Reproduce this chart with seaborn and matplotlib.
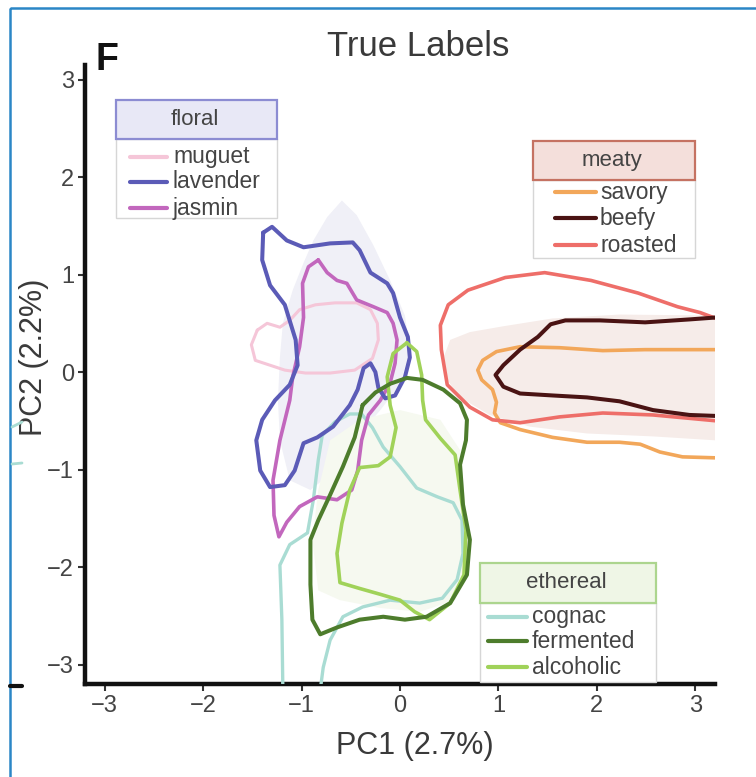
import matplotlib
matplotlib.use("Agg")
import matplotlib.pyplot as plt
from matplotlib.patches import Rectangle
import seaborn as sns

# ---- contour outlines (PC1, PC2) ----
# floral
muguet_x = [-1.45, -1.35, -1.22, -1.12, -1.02, -0.86, -0.66, -0.44, -0.30, -0.23, -0.22, -0.28, -0.46, -0.71, -0.96, -1.17, -1.32, -1.47, -1.51]
muguet_y = [0.43, 0.50, 0.46, 0.53, 0.64, 0.69, 0.71, 0.71, 0.64, 0.50, 0.33, 0.14, 0.02, -0.01, -0.01, 0.02, 0.07, 0.12, 0.28]

lavender_x = [-1.39, -1.30, -1.15, -0.98, -0.71, -0.48, -0.41, -0.30, -0.13, -0.07, 0.00, 0.08, 0.10, 0.05, -0.05, -0.15, -0.22, -0.25, -0.30, -0.37, -0.43, -0.51, -0.68, -0.84, -0.98, -1.07, -1.17, -1.32, -1.42, -1.46, -1.40, -1.27, -1.12, -1.04, -1.06, -1.17, -1.32, -1.40]
lavender_y = [1.43, 1.49, 1.35, 1.28, 1.32, 1.33, 1.25, 1.02, 0.91, 0.81, 0.56, 0.36, 0.15, -0.05, -0.24, -0.27, -0.16, 0.00, 0.09, 0.04, -0.18, -0.34, -0.56, -0.67, -0.73, -1.01, -1.16, -1.18, -1.01, -0.70, -0.49, -0.29, -0.13, 0.07, 0.33, 0.69, 0.89, 1.15]

jasmin_x = [-0.83, -0.74, -0.64, -0.54, -0.44, -0.27, -0.13, -0.07, -0.03, -0.05, -0.10, -0.20, -0.32, -0.39, -0.43, -0.49, -0.64, -0.84, -1.02, -1.15, -1.23, -1.28, -1.29, -1.22, -1.12, -1.09, -1.02, -0.98, -0.99, -0.93]
jasmin_y = [1.15, 1.02, 0.94, 0.91, 0.74, 0.67, 0.61, 0.50, 0.33, 0.09, -0.11, -0.29, -0.44, -0.70, -1.01, -1.21, -1.31, -1.28, -1.38, -1.54, -1.69, -1.47, -1.11, -0.70, -0.29, -0.05, 0.26, 0.56, 0.91, 1.08]

# meaty (open to the right, cut by the axis)
savory_x = [3.21, 2.84, 2.49, 2.06, 1.62, 1.22, 0.98, 0.84, 0.79, 0.83, 0.94, 0.98, 0.96, 1.02, 1.22, 1.55, 1.90, 2.23, 2.44, 2.64, 2.87, 3.21]
savory_y = [0.23, 0.23, 0.23, 0.22, 0.25, 0.26, 0.21, 0.12, 0.02, -0.08, -0.18, -0.31, -0.42, -0.52, -0.59, -0.67, -0.72, -0.72, -0.74, -0.82, -0.87, -0.88]

beefy_x = [3.21, 2.94, 2.49, 2.03, 1.68, 1.53, 1.40, 1.22, 1.05, 0.97, 1.05, 1.22, 1.55, 1.90, 2.23, 2.57, 2.94, 3.21]
beefy_y = [0.56, 0.54, 0.51, 0.53, 0.53, 0.49, 0.36, 0.23, 0.07, -0.03, -0.15, -0.22, -0.24, -0.26, -0.30, -0.39, -0.44, -0.45]

roasted_x = [3.21, 3.05, 2.82, 2.42, 1.94, 1.47, 1.07, 0.69, 0.49, 0.41, 0.42, 0.48, 0.71, 0.94, 1.22, 1.62, 2.06, 2.57, 3.21]
roasted_y = [0.55, 0.61, 0.67, 0.81, 0.94, 1.02, 0.97, 0.84, 0.69, 0.48, 0.23, -0.13, -0.36, -0.49, -0.52, -0.46, -0.42, -0.44, -0.50]

# ethereal
cognac_x = [-1.19, -1.20, -1.22, -1.12, -0.94, -0.88, -0.83, -0.79, -0.66, -0.51, -0.39, -0.28, -0.17, 0.00, 0.17, 0.38, 0.54, 0.63, 0.64, 0.58, 0.43, 0.20, -0.10, -0.38, -0.58, -0.71, -0.78, -0.81]
cognac_y = [-3.26, -2.54, -1.98, -1.77, -1.65, -1.31, -0.90, -0.65, -0.51, -0.43, -0.43, -0.57, -0.77, -0.97, -1.19, -1.28, -1.34, -1.52, -1.86, -2.13, -2.32, -2.37, -2.34, -2.41, -2.51, -2.75, -3.03, -3.26]

fermented_x = [-0.38, -0.25, -0.10, 0.07, 0.23, 0.44, 0.61, 0.68, 0.67, 0.61, 0.64, 0.71, 0.68, 0.51, 0.27, 0.05, -0.17, -0.41, -0.64, -0.81, -0.89, -0.91, -0.91, -0.83, -0.71, -0.58, -0.46]
fermented_y = [-0.34, -0.21, -0.12, -0.06, -0.08, -0.18, -0.32, -0.49, -0.70, -0.95, -1.36, -1.72, -2.08, -2.37, -2.51, -2.54, -2.51, -2.54, -2.62, -2.69, -2.54, -2.18, -1.72, -1.52, -1.26, -0.97, -0.67]

alcoholic_x = [0.07, 0.17, 0.22, 0.23, 0.26, 0.41, 0.56, 0.61, 0.67, 0.65, 0.51, 0.30, 0.15, 0.00, -0.20, -0.41, -0.61, -0.64, -0.59, -0.51, -0.41, -0.22, -0.10, -0.04, -0.10, -0.13, -0.07]
alcoholic_y = [0.30, 0.21, -0.03, -0.29, -0.49, -0.68, -0.85, -1.21, -1.62, -2.08, -2.37, -2.54, -2.46, -2.34, -2.28, -2.22, -2.16, -1.86, -1.55, -1.21, -0.98, -0.96, -0.87, -0.57, -0.34, -0.05, 0.19]

# shaded group densities
floral_shade_x = [-0.59, -0.44, -0.27, -0.10, 0.05, 0.10, 0.00, -0.20, -0.46, -0.66, -0.91, -1.12, -1.22, -1.24, -1.22, -1.19, -1.09, -0.98, -0.88, -0.74]
floral_shade_y = [1.76, 1.61, 1.30, 0.94, 0.58, 0.23, -0.13, -0.39, -0.70, -1.01, -1.21, -1.11, -0.70, -0.29, 0.15, 0.50, 0.84, 1.12, 1.35, 1.59]
meaty_shade_x = [3.20, 2.23, 1.55, 1.05, 0.71, 0.51, 0.45, 0.48, 0.61, 0.91, 1.32, 1.90, 2.57, 3.20]
meaty_shade_y = [0.58, 0.59, 0.55, 0.47, 0.41, 0.33, 0.17, -0.08, -0.26, -0.44, -0.56, -0.63, -0.66, -0.70]
ethereal_shade_x = [-0.71, -0.41, 0.00, 0.41, 0.61, 0.66, 0.69, 0.56, 0.20, -0.20, -0.61, -0.83, -0.89, -0.83]
ethereal_shade_y = [-0.70, -0.49, -0.39, -0.49, -0.80, -1.31, -1.93, -2.34, -2.46, -2.42, -2.34, -2.24, -1.72, -1.21]

groups = ["floral", "meaty", "ethereal"]
members = {"floral": ["muguet", "lavender", "jasmin"],
           "meaty": ["savory", "beefy", "roasted"],
           "ethereal": ["cognac", "fermented", "alcoholic"]}
colors = {"muguet": "#f5c6d8", "lavender": "#5b5bb7", "jasmin": "#c267bd",
          "savory": "#f2a75a", "beefy": "#4a1313", "roasted": "#ee6e69",
          "cognac": "#a9dcd3", "fermented": "#4d7c2c", "alcoholic": "#a0d259"}
shade_colors = {"floral": "#f0f0f7", "meaty": "#f6ece9", "ethereal": "#f6f9f0"}
head_fc = {"floral": "#e8e8f6", "meaty": "#f4dfdb", "ethereal": "#eff6e6"}
head_ec = {"floral": "#8c8cd2", "meaty": "#c57262", "ethereal": "#acd58e"}

sns.set_style("ticks")
plt.rcParams["font.family"] = ["Liberation Sans", "DejaVu Sans"]

fig = plt.figure(figsize=(7.56, 7.77), dpi=100)
ax = fig.add_axes([85 / 756, 1 - 684 / 777, 630 / 756, 619 / 777])

ax.fill(floral_shade_x, floral_shade_y, color=shade_colors["floral"], lw=0, zorder=1)
ax.fill(meaty_shade_x, meaty_shade_y, color=shade_colors["meaty"], lw=0, zorder=1)
ax.fill(ethereal_shade_x, ethereal_shade_y, color=shade_colors["ethereal"], lw=0, zorder=1)


def outline(xs, ys, name, closed=True, lw=2.6):
    xs, ys = list(xs), list(ys)
    if closed:
        xs, ys = xs + xs[:1], ys + ys[:1]
    sns.lineplot(x=xs, y=ys, sort=False, estimator=None, color=colors[name], lw=lw,
                 ax=ax, legend=False, solid_joinstyle="round", solid_capstyle="round", zorder=3)


outline(muguet_x, muguet_y, "muguet", lw=2.2)
outline(cognac_x, cognac_y, "cognac", closed=False, lw=2.4)
outline(jasmin_x, jasmin_y, "jasmin")
outline(lavender_x, lavender_y, "lavender", lw=2.9)
outline(savory_x, savory_y, "savory", closed=False)
outline(roasted_x, roasted_y, "roasted", closed=False)
outline(beefy_x, beefy_y, "beefy", closed=False, lw=2.9)
outline(alcoholic_x, alcoholic_y, "alcoholic")
outline(fermented_x, fermented_y, "fermented", lw=2.9)

ax.set_xlim(-3.2, 3.2)
ax.set_ylim(-3.2, 3.15)
ax.set_xticks([-3, -2, -1, 0, 1, 2, 3])
ax.set_yticks([-3, -2, -1, 0, 1, 2, 3])
sns.despine(ax=ax)
for s in ["left", "bottom"]:
    ax.spines[s].set_linewidth(3.2)
    ax.spines[s].set_color("#111111")
ax.tick_params(direction="out", length=5, width=1.5, color="#333333",
               labelsize=17, labelcolor="#444444", pad=3)
ax.set_xlabel("PC1 (2.7%)", fontsize=22, color="#3a3a3a")
ax.set_ylabel("PC2 (2.2%)", fontsize=22, color="#3a3a3a")
ax.xaxis.set_label_coords((415 - 85) / 630, (684 - 746) / 619)
ax.yaxis.set_label_coords((34 - 85) / 630, (684 - 357) / 619)
ax.xaxis.label.set_va("center")
ax.yaxis.label.set_va("center")

# overlay in pixel coordinates for panel letter, title, legends and frame
ov = fig.add_axes([0, 0, 1, 1], zorder=10)
ov.set_xlim(0, 756)
ov.set_ylim(777, 0)
ov.axis("off")
ov.patch.set_alpha(0)

ov.add_patch(Rectangle((10, 8), 900, 900, fill=False, ec="#2b86c6", lw=1.8))
ov.plot([12, 22], [427, 422], color=colors["cognac"], lw=2)
ov.plot([12, 22], [464, 463], color=colors["cognac"], lw=2)
ov.plot([10, 22], [686, 686], color="#111111", lw=3)

ov.text(96, 70, "F", fontsize=27, fontweight="bold", color="#111111", va="baseline", ha="left")
ov.text(418, 46, "True Labels", fontsize=25, color="#3a3a3a", ha="center", va="center")

legend_boxes = {
    # x0, x1, header top, header bottom, entries bottom, line x0, line x1, text x, rows
    "floral": (116, 277, 100, 139, 218, 130, 167, 173, [157, 182, 208]),
    "meaty": (533, 695, 141, 180, 258, 555, 596, 600, [192, 218, 245]),
    "ethereal": (480, 656, 563, 603, 682, 488, 527, 532, [617, 641, 667]),
}
for g in groups:
    x0, x1, t, m, b, lx0, lx1, tx, rows = legend_boxes[g]
    ov.add_patch(Rectangle((x0, m), x1 - x0, b - m, fc="white", ec="#d6d6d6", lw=1.0))
    ov.add_patch(Rectangle((x0, t), x1 - x0, m - t, fc=head_fc[g], ec=head_ec[g], lw=1.6))
    ov.text((x0 + x1) / 2 - 2, (t + m) / 2, g, fontsize=16, color="#444444", ha="center", va="center")
    for name, yy in zip(members[g], rows):
        ov.plot([lx0, lx1], [yy, yy], color=colors[name], lw=3)
        ov.text(tx, yy, name, fontsize=16.5, color="#444444", ha="left", va="center")

fig.savefig("out.png", dpi=100)
